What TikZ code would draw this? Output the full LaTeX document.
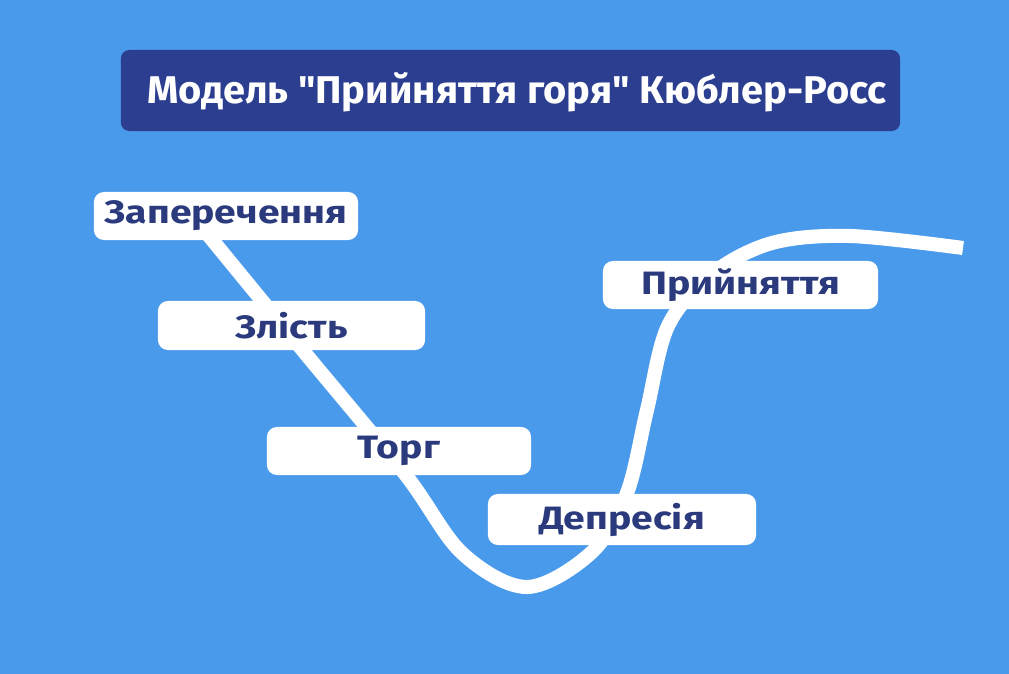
\documentclass[tikz,border=0pt]{standalone}
\usepackage{fontspec}
\setmainfont{Fira Sans}[Ligatures=TeXOff]
\newfontfamily\titlefont{Fira Sans}[Ligatures=TeXOff, FakeStretch=1.03]
\newfontfamily\stagefont{Fira Sans}[Ligatures=TeXOff, FakeStretch=1.21]
\usepackage{tikz}
\usetikzlibrary{positioning}
\definecolor{skyback}{RGB}{74, 154, 236}
\definecolor{titlenavy}{RGB}{44, 62, 143}
\definecolor{stagetext}{RGB}{42, 58, 124}

\begin{document}
\begin{tikzpicture}[
  x=0.025cm, y=-0.025cm, font=\bfseries,
  every node/.style={inner sep=0pt},
  titlebox/.style={fill=titlenavy, rounded corners=6pt, minimum width=19.475cm, minimum height=2.025cm},
  stagebox/.style={fill=white, rounded corners=7pt, minimum width=6.6cm, minimum height=1.2cm, text=stagetext, font=\stagefont\fontsize{23}{25}\selectfont\bfseries},
  griefline/.style={draw=white, line width=10pt}
]
\fill[skyback] (0,0) rectangle (1009,674);
\useasboundingbox (0,0) rectangle (1009,674);
\node[titlebox] (title) at (510.5, 90.5) {};
\node[text=white, font=\titlefont\fontsize{27.5}{30}\selectfont\bfseries] (titletext) at (517, 92) {Модель "Прийняття горя" Кюблер-Росс};
\draw[griefline] plot[smooth, tension=0.55] coordinates {(200,225) (305,353) (405,474) (462,553) (527,587) (592,552) (627,493) (647,410) (668,326) (712,274) (772,243) (850,236) (963,248)};
\node[stagebox] (denial) at (226, 216) {Заперечення};
\node[stagebox, minimum width=6.675cm, minimum height=1.225cm] (anger) at (291.5, 325.5) {Злість};
\node[stagebox] (bargain) at (399, 451) {Торг};
\node[stagebox, minimum width=6.7cm, minimum height=1.275cm] (depress) at (622, 519.5) {Депресія};
\node[stagebox, minimum width=6.875cm] (accept) at (740.5, 285) {Прийняття};
\end{tikzpicture}
\end{document}
